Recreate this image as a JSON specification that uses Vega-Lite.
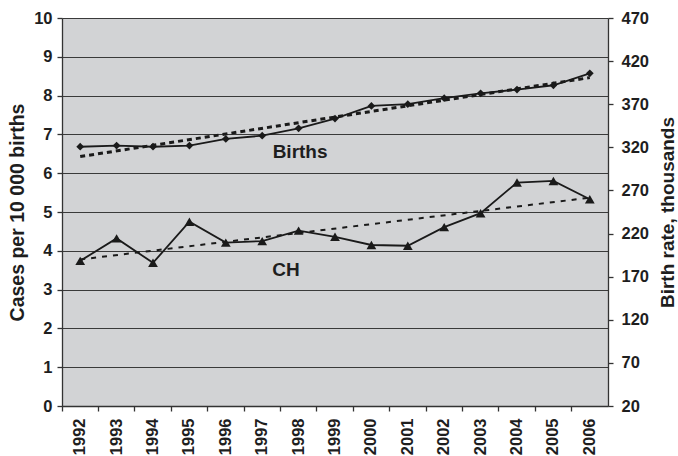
{
  "$schema": "https://vega.github.io/schema/vega-lite/v6.json",
  "width": 546,
  "height": 388,
  "autosize": {"type": "none"},
  "padding": {"left": 62, "top": 18, "right": 70, "bottom": 50},
  "background": "white",
  "config": {
    "font": "Liberation Sans",
    "view": {"fill": "#D2D3D5", "stroke": null},
    "axis": {
      "labelFont": "Liberation Sans",
      "labelFontWeight": "bold",
      "labelFontSize": 16.5,
      "labelColor": "#1e1e1e",
      "titleFont": "Liberation Sans",
      "titleFontWeight": "bold",
      "titleFontSize": 19.5,
      "titleColor": "#1e1e1e",
      "domainColor": "#333333",
      "domainWidth": 1.3,
      "tickColor": "#333333",
      "tickWidth": 1.3,
      "tickSize": 5,
      "gridColor": "#3a3a3a",
      "gridWidth": 1.1,
      "gridOpacity": 1
    }
  },
  "datasets": {
    "series": [
      {"year": 1992, "ch": 3.74, "births": 320.7},
      {"year": 1993, "ch": 4.32, "births": 322.0},
      {"year": 1994, "ch": 3.69, "births": 320.7},
      {"year": 1995, "ch": 4.75, "births": 322.0},
      {"year": 1996, "ch": 4.21, "births": 329.7},
      {"year": 1997, "ch": 4.25, "births": 333.5},
      {"year": 1998, "ch": 4.52, "births": 342.0},
      {"year": 1999, "ch": 4.36, "births": 353.3},
      {"year": 2000, "ch": 4.15, "births": 368.0},
      {"year": 2001, "ch": 4.13, "births": 370.0},
      {"year": 2002, "ch": 4.61, "births": 377.0},
      {"year": 2003, "ch": 4.97, "births": 382.7},
      {"year": 2004, "ch": 5.76, "births": 387.0},
      {"year": 2005, "ch": 5.80, "births": 392.0},
      {"year": 2006, "ch": 5.33, "births": 405.8}
    ],
    "chLabel": [{"year": 1998, "ch": 3.51, "label": "CH"}],
    "birthsLabel": [{"year": 1998, "births": 314.6, "label": "Births"}]
  },
  "layer": [
    {
      "encoding": {
        "x": {
          "field": "year",
          "type": "ordinal",
          "scale": {"type": "band", "paddingInner": 0, "paddingOuter": 0},
          "axis": {"title": null, "bandPosition": 0, "labelAngle": -90, "grid": false, "labelPadding": 7}
        },
        "y": {
          "field": "ch",
          "type": "quantitative",
          "scale": {"domain": [0, 10], "nice": false, "zero": false},
          "axis": {
            "orient": "left",
            "title": "Cases per 10 000 births",
            "values": [0, 1, 2, 3, 4, 5, 6, 7, 8, 9, 10],
            "grid": true,
            "labelPadding": 5,
            "titlePadding": 6
          }
        }
      },
      "layer": [
        {
          "data": {"name": "series"},
          "mark": {"type": "line", "color": "#1a1a1a", "strokeWidth": 1.8}
        },
        {
          "data": {"name": "series"},
          "mark": {"type": "point", "shape": "triangle-up", "filled": true, "size": 95, "color": "#1a1a1a", "opacity": 1}
        },
        {
          "data": {"name": "series"},
          "transform": [{"regression": "ch", "on": "year"}],
          "mark": {"type": "line", "color": "#1a1a1a", "strokeWidth": 2, "strokeDash": [5, 6]}
        },
        {
          "data": {"name": "chLabel"},
          "mark": {"type": "text", "font": "Liberation Sans", "fontWeight": "bold", "fontSize": 19, "color": "#1e1e1e", "dx": -12.6, "baseline": "middle", "align": "center"},
          "encoding": {"text": {"field": "label"}}
        }
      ]
    },
    {
      "encoding": {
        "x": {
          "field": "year",
          "type": "ordinal",
          "scale": {"type": "band", "paddingInner": 0, "paddingOuter": 0},
          "axis": {"title": null, "bandPosition": 0, "labelAngle": -90, "grid": false, "labelPadding": 7}
        },
        "y": {
          "field": "births",
          "type": "quantitative",
          "scale": {"domain": [20, 470], "nice": false, "zero": false},
          "axis": {
            "orient": "right",
            "title": "Birth rate, thousands",
            "titleAngle": -90,
            "titleBaseline": "top",
            "titleFontSize": 19,
            "values": [20, 70, 120, 170, 220, 270, 320, 370, 420, 470],
            "grid": false,
            "labelPadding": 8,
            "titlePadding": 10
          }
        }
      },
      "layer": [
        {
          "data": {"name": "series"},
          "mark": {"type": "line", "color": "#1a1a1a", "strokeWidth": 1.8}
        },
        {
          "data": {"name": "series"},
          "mark": {"type": "point", "shape": "diamond", "filled": true, "size": 60, "color": "#1a1a1a", "opacity": 1}
        },
        {
          "data": {"name": "series"},
          "transform": [{"regression": "births", "on": "year"}],
          "mark": {"type": "line", "color": "#1a1a1a", "strokeWidth": 3, "strokeDash": [5, 4]}
        },
        {
          "data": {"name": "birthsLabel"},
          "mark": {"type": "text", "font": "Liberation Sans", "fontWeight": "bold", "fontSize": 19, "color": "#1e1e1e", "dx": 1.5, "baseline": "middle", "align": "center"},
          "encoding": {"text": {"field": "label"}}
        }
      ]
    }
  ],
  "resolve": {"scale": {"y": "independent"}}
}
